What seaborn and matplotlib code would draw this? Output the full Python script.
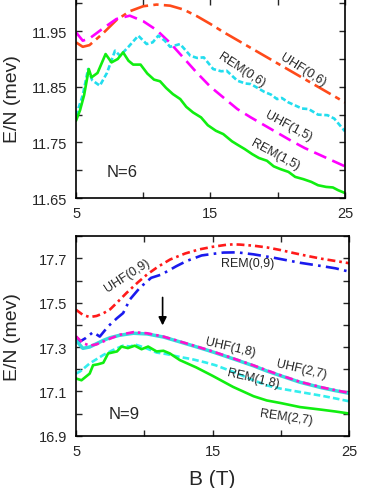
import matplotlib
matplotlib.use('Agg')
import matplotlib.pyplot as plt
import seaborn as sns
from matplotlib.ticker import MultipleLocator

# N=6 panel
b_uhf06 = [5, 5.5, 6, 7, 8, 9, 10, 11, 12, 13, 14, 15, 16, 17, 18, 19, 20, 21, 22, 23, 24, 25]
e_uhf06 = [11.930, 11.922, 11.925, 11.946, 11.970, 11.986, 11.995, 11.998, 11.996, 11.989, 11.977,
           11.963, 11.948, 11.934, 11.920, 11.906, 11.892, 11.878, 11.864, 11.850, 11.836, 11.822]

b_uhf15 = [5, 5.5, 6, 7, 8, 9, 10, 11, 12, 13, 14, 15, 16, 17, 18, 19, 20, 21, 22, 23, 24, 25]
e_uhf15 = [11.948, 11.933, 11.937, 11.955, 11.972, 11.978, 11.968, 11.952, 11.929, 11.902, 11.875,
           11.850, 11.830, 11.810, 11.795, 11.781, 11.767, 11.753, 11.740, 11.729, 11.718, 11.707]

b_rem06 = [5.0, 5.5, 5.9, 6.2, 6.77, 7.3, 7.9, 8.27, 8.9, 9.63, 10.25, 10.7, 11.12, 11.6, 12.0,
           12.74, 13.5, 14.0, 14.5, 15.2, 15.8, 16.2, 17.0, 17.6, 18.0, 19.0, 19.5, 19.95,
           20.3, 20.8, 21.8, 22.3, 23.0, 23.7, 24.2, 25.0]
e_rem06 = [11.798, 11.835, 11.882, 11.862, 11.852, 11.875, 11.915, 11.906, 11.922, 11.942, 11.927,
           11.930, 11.942, 11.933, 11.922, 11.927, 11.906, 11.902, 11.903, 11.882, 11.878, 11.879,
           11.861, 11.856, 11.855, 11.841, 11.836, 11.828, 11.830, 11.822, 11.811, 11.810, 11.800,
           11.799, 11.793, 11.770]

b_rem15 = [5.0, 5.3, 5.6, 5.95, 6.15, 6.6, 7.2, 7.64, 8.1, 8.5, 8.9, 9.25, 9.8, 10.3, 10.8, 11.25,
           11.7, 12.2, 12.75, 13.2, 13.7, 14.3, 14.8, 15.4, 15.95, 16.6, 17.0, 17.55, 18.1, 18.6,
           19.2, 19.7, 20.2, 20.8, 21.3, 21.9, 22.5, 23.0, 23.6, 24.1, 24.5, 25.0]
e_rem15 = [11.789, 11.808, 11.835, 11.882, 11.867, 11.875, 11.909, 11.894, 11.900, 11.912, 11.897,
           11.890, 11.890, 11.874, 11.863, 11.860, 11.848, 11.837, 11.828, 11.814, 11.804, 11.795,
           11.781, 11.771, 11.765, 11.752, 11.746, 11.738, 11.729, 11.722, 11.717, 11.707, 11.702,
           11.697, 11.688, 11.684, 11.679, 11.673, 11.670, 11.669, 11.664, 11.659]

# N=9 panel
b_uhf09 = [5, 5.5, 6, 6.5, 7, 7.5, 8, 8.7, 9.5, 10.2, 11, 11.9, 13, 14, 15, 16, 16.5, 17, 18, 19,
           20, 21, 22, 23, 24, 25]
e_uhf09 = [17.468, 17.445, 17.435, 17.440, 17.452, 17.470, 17.500, 17.544, 17.590, 17.627, 17.662,
           17.695, 17.722, 17.740, 17.752, 17.761, 17.763, 17.762, 17.757, 17.749, 17.737, 17.723,
           17.710, 17.698, 17.688, 17.678]

b_rem09 = [5, 5.3, 5.7, 6.25, 6.74, 7.35, 8.0, 8.45, 8.94, 9.67, 10.5, 11.26, 12.36, 13.1, 14.2,
           15.0, 15.8, 16.8, 18.0, 19.45, 21.4, 23.0, 24.0, 25.0]
e_rem09 = [17.347, 17.325, 17.340, 17.367, 17.347, 17.393, 17.430, 17.453, 17.514, 17.567, 17.612,
           17.627, 17.665, 17.688, 17.713, 17.720, 17.726, 17.727, 17.718, 17.703, 17.680, 17.665,
           17.655, 17.640]

b_uhf = [5, 5.5, 6, 6.5, 7, 7.5, 8.2, 9.2, 10.2, 11.4, 12.5, 14.07, 15, 16.5, 18, 18.96, 20, 21.4,
         23, 24, 25]
e_uhf18 = [17.348, 17.318, 17.306, 17.312, 17.325, 17.338, 17.355, 17.367, 17.362, 17.347, 17.327,
           17.298, 17.280, 17.249, 17.217, 17.195, 17.172, 17.143, 17.118, 17.105, 17.093]
e_uhf27 = [17.330, 17.294, 17.300, 17.315, 17.330, 17.342, 17.353, 17.362, 17.359, 17.345, 17.325,
           17.296, 17.278, 17.247, 17.215, 17.192, 17.170, 17.141, 17.116, 17.103, 17.091]

b_rem18 = [5, 5.3, 5.6, 6.0, 6.5, 7.0, 7.7, 8.45, 9.0, 9.3, 10.16, 10.9, 11.63, 12.6, 13.5, 14.5,
           15.2, 16.5, 18, 18.96, 20, 21.4, 23, 24, 25]
e_rem18 = [17.180, 17.190, 17.205, 17.226, 17.245, 17.264, 17.286, 17.306, 17.302, 17.312, 17.294,
           17.275, 17.268, 17.255, 17.245, 17.230, 17.218, 17.188, 17.150, 17.127, 17.112, 17.097,
           17.080, 17.068, 17.055]

b_rem27 = [5, 5.4, 6.0, 6.25, 6.6, 7.0, 7.35, 8.0, 8.33, 8.8, 9.3, 9.8, 10.28, 10.9, 11.4, 11.87,
           12.6, 13.8, 15.0, 16.5, 18, 18.96, 20, 21.4, 23, 24, 25]
e_rem27 = [17.158, 17.150, 17.180, 17.218, 17.222, 17.229, 17.271, 17.280, 17.302, 17.295, 17.306,
           17.290, 17.302, 17.280, 17.283, 17.271, 17.241, 17.208, 17.170, 17.120, 17.078, 17.059,
           17.047, 17.029, 17.017, 17.009, 17.000]

sns.set_style('ticks')
plt.rcParams['font.family'] = ['Liberation Sans', 'DejaVu Sans']

fig = plt.figure(figsize=(3.82, 4.89), dpi=100)
ax1 = fig.add_axes([0.199, 0.593, 0.704, 0.407])
ax2 = fig.add_axes([0.199, 0.107, 0.715, 0.408])

lw = 1.9
sns.lineplot(x=b_uhf06, y=e_uhf06, ax=ax1, color='#ff4a1a', lw=lw, linestyle=(0, (7, 2, 2, 2)))
sns.lineplot(x=b_uhf15, y=e_uhf15, ax=ax1, color='#ff00ff', lw=lw, linestyle=(0, (5, 2.5)))
sns.lineplot(x=b_rem06, y=e_rem06, ax=ax1, color='#22ddee', lw=lw, linestyle=(0, (2, 1)))
sns.lineplot(x=b_rem15, y=e_rem15, ax=ax1, color='#11ee11', lw=lw, linestyle='-')

sns.lineplot(x=b_uhf09, y=e_uhf09, ax=ax2, color='#ff1a1a', lw=lw, linestyle=(0, (3, 1.5, 1, 1.5)))
sns.lineplot(x=b_rem09, y=e_rem09, ax=ax2, color='#1a1aee', lw=lw, linestyle=(0, (5, 2, 1, 2)))
sns.lineplot(x=b_uhf, y=e_uhf27, ax=ax2, color='#33dddd', lw=lw + 0.6, linestyle='-')
sns.lineplot(x=b_uhf, y=e_uhf18, ax=ax2, color='#ff11cc', lw=lw, linestyle=(0, (3, 1.5, 1, 1.5)))
sns.lineplot(x=b_rem18, y=e_rem18, ax=ax2, color='#33eeee', lw=lw, linestyle=(0, (2.5, 1.2)))
sns.lineplot(x=b_rem27, y=e_rem27, ax=ax2, color='#11ee11', lw=lw, linestyle='-')

for ax in (ax1, ax2):
    ax.set_xlim(5, 25)
    ax.set_xticks([5, 15, 25])
    ax.set_xticklabels(['5', '15', '25'])
    ax.xaxis.set_minor_locator(MultipleLocator(5))
    ax.tick_params(which='both', direction='in', top=True, right=True, length=4,
                   width=1, labelsize=10.5, pad=6)
    for s in ax.spines.values():
        s.set_linewidth(1.2)
        s.set_color('black')
    ax.set_ylabel('E/N (mev)', fontsize=14)
    ax.set_xlabel('')

ax1.set_ylim(11.65, 12.008)
ax1.set_yticks([11.65, 11.75, 11.85, 11.95])
ax1.set_yticklabels(['11.65', '11.75', '11.85', '11.95'])
ax1.yaxis.set_minor_locator(MultipleLocator(0.05))
ax1.yaxis.set_label_coords(-0.205, 0.5)

ax2.set_ylim(16.9, 17.8)
ax2.set_yticks([16.9, 17.1, 17.3, 17.5, 17.7])
ax2.set_yticklabels(['16.9', '17.1', '17.3', '17.5', '17.7'])
ax2.yaxis.set_minor_locator(MultipleLocator(0.1))
ax2.yaxis.set_label_coords(-0.2015, 0.5)
ax2.set_xlabel('B (T)', fontsize=15)
ax2.xaxis.set_label_coords(0.5, -0.165)

fs = 9
ax1.text(7.3, 11.697, 'N=6', fontsize=12, va='center', ha='left')
ax1.text(17.3, 11.882, 'REM(0,6)', fontsize=fs, rotation=-33, ha='center', va='center')
ax1.text(21.9, 11.882, 'UHF(0,6)', fontsize=fs, rotation=-32, ha='center', va='center')
ax1.text(20.8, 11.780, 'UHF(1,5)', fontsize=fs, rotation=-28, ha='center', va='center')
ax1.text(19.8, 11.729, 'REM(1,5)', fontsize=fs, rotation=-28, ha='center', va='center')

ax2.text(7.4, 16.999, 'N=9', fontsize=12, va='center', ha='left')
ax2.text(8.77, 17.627, 'UHF(0,9)', fontsize=fs, rotation=33, ha='center', va='center')
ax2.text(17.6, 17.68, 'REM(0,9)', fontsize=fs, ha='center', va='center')
ax2.text(16.27, 17.302, 'UHF(1,8)', fontsize=fs, rotation=-13, ha='center', va='center')
ax2.text(21.5, 17.203, 'UHF(2,7)', fontsize=fs, rotation=-13, ha='center', va='center')
ax2.text(18.0, 17.158, 'REM(1,8)', fontsize=fs, rotation=-13, ha='center', va='center')
ax2.text(20.4, 16.984, 'REM(2,7)', fontsize=fs, rotation=-8, ha='center', va='center')
ax2.annotate('', xy=(11.34, 17.385), xytext=(11.34, 17.536),
             arrowprops=dict(arrowstyle='-|>', color='black', lw=1.2, mutation_scale=12))

fig.savefig('out.png', dpi=100)
